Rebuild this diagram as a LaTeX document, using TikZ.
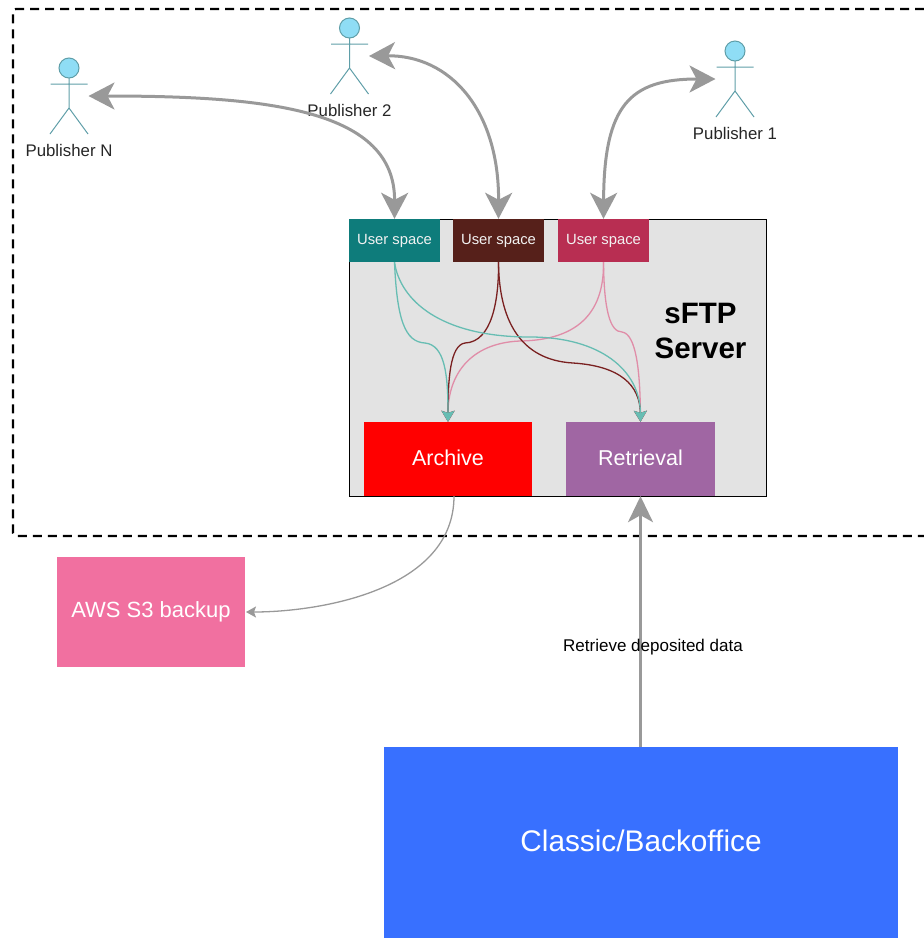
\documentclass[tikz,border=0pt]{standalone}
\usepackage{fontspec}
\setmainfont{Liberation Sans}
\usetikzlibrary{arrows.meta}
\definecolor{gline}{HTML}{999999}
\definecolor{tealc}{HTML}{67BDB3}
\definecolor{brownc}{HTML}{7A2020}
\definecolor{pinkc}{HTML}{E08DA8}
\definecolor{actline}{HTML}{5F9EA8}
\definecolor{actfill}{HTML}{8FDDF5}
\definecolor{usteal}{HTML}{0E7C7B}
\definecolor{usbrown}{HTML}{56201A}
\definecolor{uscrimson}{HTML}{B82E52}
\definecolor{retfill}{HTML}{A066A3}
\definecolor{awsfill}{HTML}{F170A0}
\definecolor{classicfill}{HTML}{3870FF}
\tikzset{
  box/.style={draw=none,inner sep=0pt,text=white,align=center},
  userbox/.style={box,minimum width=91pt,minimum height=43pt,font=\fontsize{14.8}{17}\selectfont,text=white!90!gray},
  bigarrow/.style={draw=gline,line width=3pt,{Stealth[length=26pt,width=27pt,inset=7pt]}-{Stealth[length=26pt,width=27pt,inset=7pt]}},
  oneway/.style={draw=gline,line width=2.4pt,-{Stealth[length=26pt,width=25pt,inset=7pt]}},
  thinarrow/.style={draw=gline,line width=1.3pt,-{Stealth[length=10pt,width=11pt,inset=2pt]}},
  flow/.style={line width=1.3pt,-{Stealth[length=11pt,width=13pt,inset=2pt]}},
  actorline/.style={draw=actline,line width=1pt},
  pubtext/.style={inner sep=0pt,font=\fontsize{16.8}{20}\selectfont,text=black!85},
}
\newcommand{\publisher}[4]{%
  \begin{scope}[shift={(#2,#3)}]
    \node[circle,draw=actline,fill=actfill,line width=1pt,minimum size=20pt,inner sep=0pt] (#1) at (0,0) {};
    \draw[actorline] (0,10) -- (0,40) (-18.5,16) -- (18.5,16) (-19,66) -- (0,40) -- (19,66);
    \coordinate (#1l) at (-19.5,28);
    \coordinate (#1r) at (19.5,28);
    \node[pubtext] (#1t) at (0,82) {#4};
  \end{scope}}
\begin{document}
\begin{tikzpicture}[x=1pt,y=-1pt]
\useasboundingbox (0,0) rectangle (924,938);
\draw[line width=2.3pt,dash pattern=on 9pt off 6pt,rounded corners=3pt] (924,9) -- (13,9) -- (13,536) -- (924,536);

\node[box,draw=black,line width=1pt,fill=black!11,minimum width=417pt,minimum height=277pt] (server) at (557.5,357.5) {};
\node[box,font=\bfseries\fontsize{29.5}{35}\selectfont,text=black] (serverlabel) at (700.5,331) {sFTP\\Server};

\node[userbox,fill=usteal] (usA) at (394.5,240.5) {User space};
\node[userbox,fill=usbrown] (usB) at (498.5,240.5) {User space};
\node[userbox,fill=uscrimson] (usC) at (603.5,240.5) {User space};

\node[box,fill=red,minimum width=168pt,minimum height=74pt,font=\fontsize{21.5}{26}\selectfont] (arch) at (448,459) {\raisebox{2pt}{Archive}};
\node[box,fill=retfill,minimum width=149pt,minimum height=74pt,font=\fontsize{21.5}{26}\selectfont] (ret) at (640.5,459) {\raisebox{2pt}{Retrieval}};
\node[box,fill=awsfill,minimum width=188pt,minimum height=110pt,font=\fontsize{22}{26}\selectfont] (aws) at (151,612) {AWS S3 backup};
\node[box,fill=classicfill,minimum width=514pt,minimum height=191pt,font=\fontsize{29.8}{36}\selectfont] (classic) at (641,842.5) {\raisebox{3.5pt}{Classic/Backoffice}};

\publisher{pubN}{69}{68}{Publisher N}
\publisher{pubB}{349.5}{28}{Publisher 2}
\publisher{pubA}{735}{51}{Publisher 1}

\draw[bigarrow] (pubNr) .. controls (270,96) and (395,110) .. (usA.north);
\draw[bigarrow] (pubBr) .. controls (450,55) and (499,110) .. (usB.north);
\draw[bigarrow] (pubAl) .. controls (630,79) and (604,105) .. (usC.north);

\draw[flow,pinkc] (usC.south) .. controls (604,300) and (590,340) .. (520,341) .. controls (470,343) and (448,375) .. (arch.north);
\draw[flow,pinkc] (usC.south) .. controls (604,310) and (610,332) .. (622,332) .. controls (636,334) and (640,370) .. (ret.north);
\draw[flow,brownc] (usB.south) .. controls (499,300) and (492,342) .. (465,343) .. controls (450,345) and (448,380) .. (arch.north);
\draw[flow,brownc] (usB.south) .. controls (499,320) and (520,360) .. (573,363) .. controls (620,366) and (640,385) .. (ret.north);
\draw[flow,tealc] (usA.south) .. controls (397,320) and (405,342) .. (425,343) .. controls (445,345) and (448,375) .. (arch.north);
\draw[flow,tealc] (usA.south) .. controls (400,300) and (440,337) .. (530,337) .. controls (600,337) and (640,370) .. (ret.north);

\coordinate (archout) at (454,496);
\coordinate (awsin) at (246,612);
\draw[thinarrow] (archout) .. controls (454,590) and (320,612) .. (awsin);
\draw[oneway] (ret.south |- classic.north) -- (ret.south);
\node[inner sep=0pt,font=\fontsize{17}{20}\selectfont,text=black] (retlabel) at (653,647.5) {Retrieve deposited data};
\end{tikzpicture}
\end{document}
